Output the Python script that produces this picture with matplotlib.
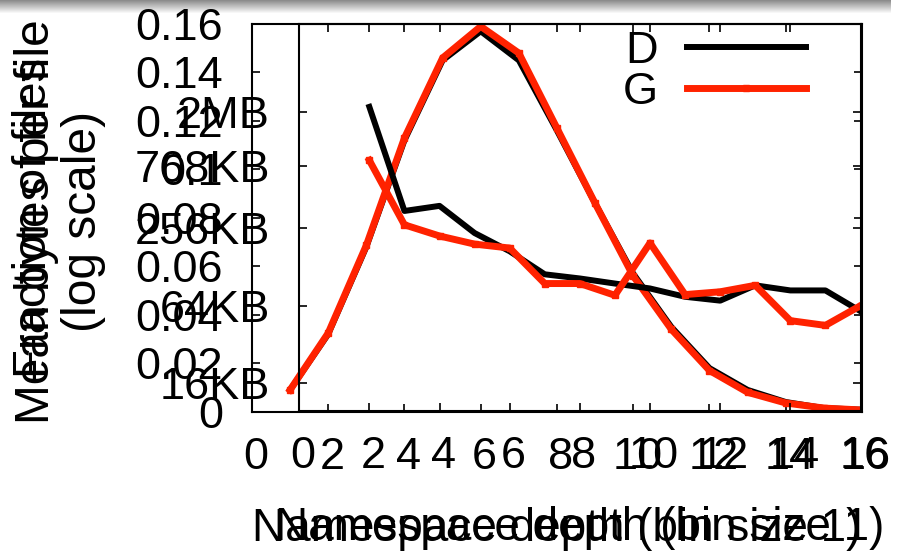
import numpy as np
import matplotlib
matplotlib.use("Agg")
import matplotlib.pyplot as plt
from matplotlib.transforms import ScaledTranslation

plt.rcParams['font.family'] = ['Liberation Sans', 'DejaVu Sans']

# chart 1: fraction of files per namespace depth
depth_frac = [1, 2, 3, 4, 5, 6, 7, 8, 9, 10, 11, 12, 13, 14, 15, 16]
frac_D = [0.009, 0.032, 0.068, 0.112, 0.145, 0.157, 0.145, 0.116, 0.086, 0.057, 0.035, 0.018, 0.009, 0.004, 0.0015, 0.0008]
frac_G = [0.009, 0.0325, 0.0687, 0.113, 0.146, 0.159, 0.148, 0.117, 0.086, 0.056, 0.034, 0.017, 0.008, 0.0036, 0.0015, 0.0007]

# chart 2: mean bytes per file (KB) per namespace depth
depth_size = [2, 3, 4, 5, 6, 7, 8, 9, 10, 11, 12, 13, 14, 15, 16]
size_D_kb = [2225, 347, 380, 234, 169, 112, 104, 95, 87, 75, 70, 92, 84, 84, 58]
size_G_kb = [856, 271, 222, 192, 179, 95, 95, 77, 196, 78, 82, 92, 49, 45, 64]

frac_ticks = [0, 0.02, 0.04, 0.06, 0.08, 0.10, 0.12, 0.14, 0.16]
frac_labels = ['0', '0.02', '0.04', '0.06', '0.08', '0.1', '0.12', '0.14', '0.16']
size_ticks_kb = [16, 64, 256, 768, 2048]
size_labels = ['16KB', '64KB', '256KB', '768KB', '2MB']
x_ticks = [0, 2, 4, 6, 8, 10, 12, 14, 16]

RED = '#ff2200'
FS = 32.5

fig = plt.figure(figsize=(9.13, 5.53), dpi=100)

# faint shadow strip at the top
top = fig.add_axes([0, 1 - 14 / 553, 0.975, 14 / 553])
grad = np.linspace(0.55, 1.0, 14).reshape(-1, 1)
top.imshow(grad, aspect='auto', cmap='gray', vmin=0, vmax=1)
top.axis('off')

shift = ScaledTranslation(4 / 100, 0, fig.dpi_scale_trans)


def style(ax):
    ax.set_xlim(0, 16)
    ax.set_xticks(x_ticks)
    ax.tick_params(direction='in', length=6, width=1.2, top=True, right=True,
                   labelsize=FS)
    ax.tick_params(axis='y', pad=21)
    ax.tick_params(axis='x', pad=18)
    for lab in ax.get_xticklabels():
        lab.set_transform(lab.get_transform() + shift)
    for s in ax.spines.values():
        s.set_linewidth(1.5)


# first chart
ax1 = fig.add_axes([0.2760, 0.2555, 0.6681, 0.7011])
ax1.plot(depth_frac, frac_D, color='black', lw=4.3)
ax1.plot(depth_frac, frac_G, color=RED, lw=5, marker='s', ms=5)
ax1.set_ylim(0, 0.16)
ax1.set_yticks(frac_ticks)
ax1.set_yticklabels(frac_labels)
style(ax1)
ax1.set_xlabel('Namespace depth (bin size 1)', fontsize=33)
ax1.xaxis.set_label_coords(0.5, -0.245)
ax1.set_ylabel('Fraction of files', fontsize=34)
ax1.yaxis.set_label_coords(-0.322, 0.5)

# second chart drawn over the first
ax2 = fig.add_axes([0.3277, 0.2568, 0.6148, 0.6998])
ax2.patch.set_alpha(0)
kb = 1024
lD, = ax2.plot(depth_size, [v * kb for v in size_D_kb], color='black', lw=4.3, label='D')
lG, = ax2.plot(depth_size, [v * kb for v in size_G_kb], color=RED, lw=5, marker='s', ms=5, label='G')
ax2.set_yscale('log')
ax2.set_ylim(1e4, 1e7)
ax2.set_yticks([v * kb for v in size_ticks_kb])
ax2.set_yticklabels(size_labels)
ax2.minorticks_off()
style(ax2)
ax2.set_xlabel('Namespace depth (bin size 1)', fontsize=33)
ax2.xaxis.set_label_coords(0.5, -0.245)
ax2.set_ylabel('Mean bytes per file\n(log scale)', fontsize=34.5, linespacing=1.05)
ax2.yaxis.set_label_coords(-0.345, 0.49)

fig.legend(handles=[lD, lG], loc='upper right', bbox_to_anchor=(806 / 913, 0.944),
           frameon=False, markerfirst=False, fontsize=FS, handlelength=2.64,
           handletextpad=0.65, labelspacing=0.0, borderpad=0, borderaxespad=0,
           numpoints=1)

fig.savefig('out.png', dpi=100)
